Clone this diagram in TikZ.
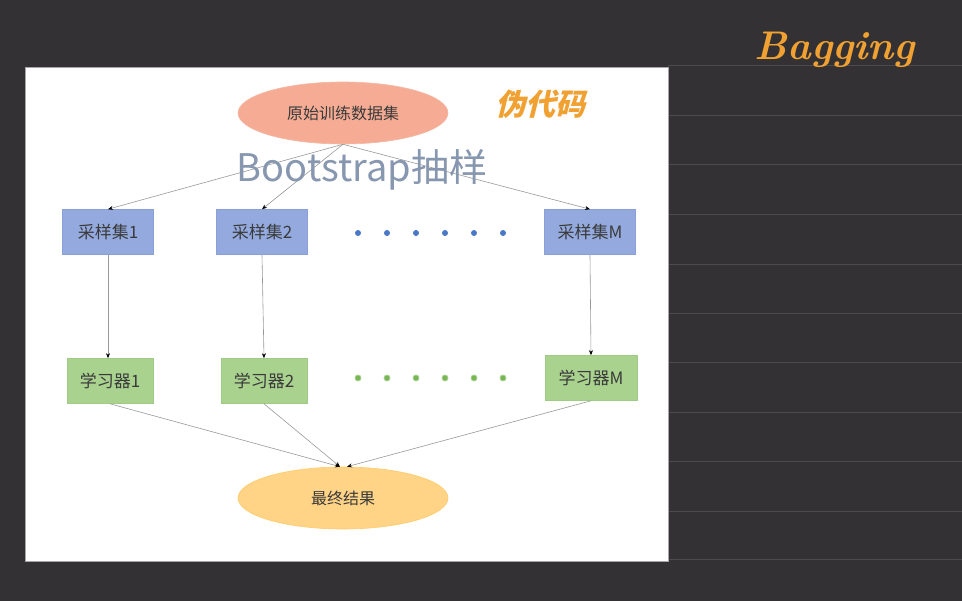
\documentclass[tikz,border=0pt]{standalone}
\usepackage{fontspec}
\newfontfamily\cjk{Noto Sans CJK SC}
\usetikzlibrary{shapes.geometric,arrows.meta}
\definecolor{boarddark}{HTML}{333134}
\definecolor{ruleline}{HTML}{4C4A4D}
\definecolor{inkorange}{HTML}{F0A132}
\definecolor{salmonfill}{HTML}{F6AC94}
\definecolor{salmonline}{HTML}{F3B8A4}
\definecolor{samplefill}{HTML}{94AADE}
\definecolor{sampleline}{HTML}{8AA0D8}
\definecolor{learnfill}{HTML}{A9D28F}
\definecolor{learnline}{HTML}{A0CB86}
\definecolor{resultfill}{HTML}{FFD486}
\definecolor{resultline}{HTML}{FFCB6A}
\definecolor{boottext}{HTML}{8797B0}
\definecolor{nodetext}{HTML}{3A3A3A}
\definecolor{bluedot}{HTML}{4A78C8}
\definecolor{greendot}{HTML}{78B655}
\tikzset{
  oval/.style={ellipse, minimum width=210pt, minimum height=62pt, inner sep=0pt,
    font=\cjk\fontsize{16}{19}\selectfont, text=nodetext, line width=0.6pt},
  samplebox/.style={rectangle, fill=samplefill, draw=sampleline, line width=0.6pt,
    minimum width=91pt, minimum height=45pt, inner sep=0pt,
    font=\cjk\fontsize{17}{20}\selectfont, text=nodetext},
  learnbox/.style={samplebox, fill=learnfill, draw=learnline, minimum width=86pt},
  flow/.style={draw=black!40, line width=0.6pt, -{Stealth[length=5pt, width=4pt, color=black]}},
  dotmark/.style={circle, inner sep=0pt, minimum size=6pt}
}
\begin{document}
\begin{tikzpicture}[x=1pt, y=-1pt]
  \useasboundingbox (0,0) rectangle (962,601);
  \fill[boarddark] (0,0) rectangle (962,601);
  \foreach \y in {66,116,165,215,265,314,363,413,462,512,560}
    \draw[ruleline, line width=1pt] (668,\y) -- (962,\y);
  \filldraw[fill=white, draw=black!35, line width=0.8pt] (25,67) rectangle (668,561);

  \node[font=\itshape\bfseries\fontsize{40}{44}\selectfont, text=inkorange] (title) at (835,50) {Bagging};
  \node[font=\cjk\bfseries\fontsize{30}{34}\selectfont, text=inkorange, xslant=0.25, transform shape] (pseudo) at (543,104) {伪代码};

  \node[oval, fill=salmonfill, draw=salmonline] (orig) at (343,113) {原始训练数据集};
  \node[samplebox] (s1) at (108,232) {采样集1};
  \node[samplebox] (s2) at (262,232) {采样集2};
  \node[samplebox] (sM) at (590,232) {采样集M};
  \node[learnbox] (l1) at (110,381) {学习器1};
  \node[learnbox] (l2) at (264,381) {学习器2};
  \node[learnbox, minimum width=92pt] (lM) at (591,378) {学习器M};
  \node[oval, fill=resultfill, draw=resultline] (res) at (343,498) {最终结果};

  \foreach \x in {358,387,416,445,474,503} {
    \node[dotmark, fill=bluedot] at (\x,233) {};
    \node[dotmark, fill=greendot, draw=learnfill, line width=0.8pt] at (\x,378) {};
  }

  \draw[flow] (orig.south) -- (s1.north);
  \draw[flow] (orig.south) -- (s2.north);
  \draw[flow] (orig.south) -- (sM.north);
  \draw[flow] (s1.south) -- (l1.north -| s1.south);
  \draw[flow] (s2.south) -- (l2.north);
  \draw[flow] (sM.south) -- (lM.north);
  \draw[flow] (l1.south) -- ([xshift=-3pt]res.north);
  \draw[flow] (l2.south) -- ([xshift=-3pt]res.north);
  \draw[flow] (lM.south) -- ([xshift=4pt]res.north);

  \node[font=\cjk\fontsize{38}{42}\selectfont, text=boottext] (boot) at (362,170) {Bootstrap抽样};
\end{tikzpicture}
\end{document}
